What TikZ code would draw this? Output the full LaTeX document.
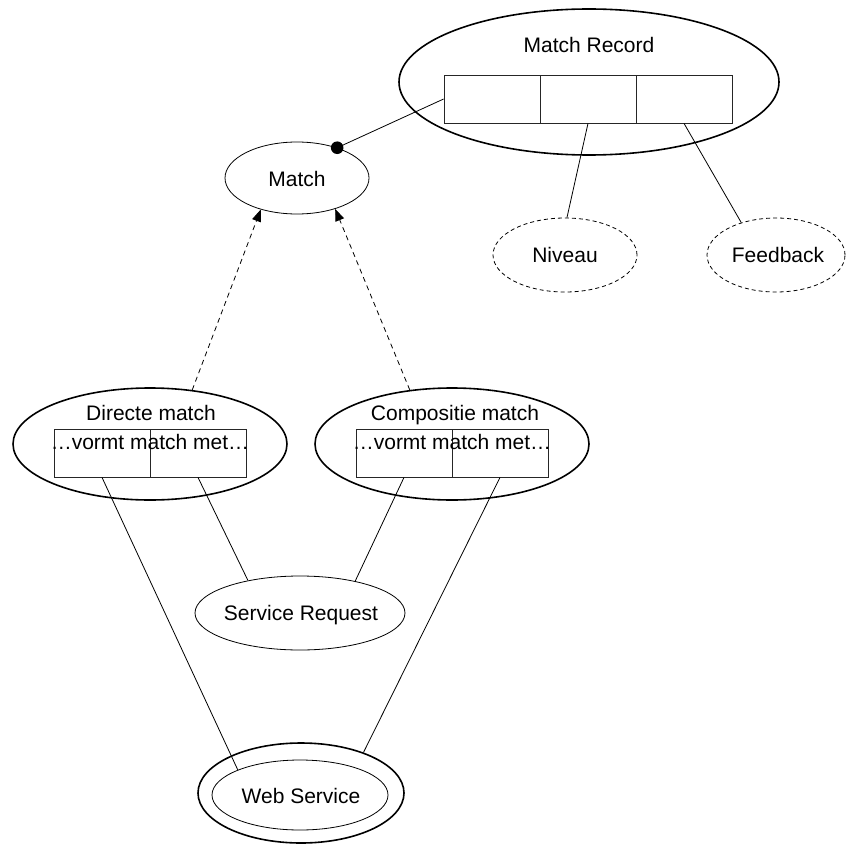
\documentclass[tikz,border=0pt]{standalone}
\usepackage{fontspec}
\setmainfont{Liberation Sans}
\usetikzlibrary{shapes.geometric,arrows.meta}
\begin{document}
\begin{tikzpicture}[x=1pt,y=-1pt,
  font=\fontsize{21}{25}\selectfont,
  oval/.style={ellipse,draw,inner sep=0pt,line width=0.8pt},
  bigoval/.style={oval,line width=1.6pt},
  optoval/.style={oval,dash pattern=on 4pt off 3pt},
  cell/.style={rectangle,draw=black!85,line width=0.8pt,inner sep=0pt,
    minimum width=96pt,minimum height=48pt},
  lbl/.style={anchor=base,inner sep=0pt},
  link/.style={line width=0.8pt},
  isa/.style={line width=0.8pt,dash pattern=on 5pt off 4pt,
    -{Triangle[length=12pt,width=9pt]}}]
\useasboundingbox (0,0) rectangle (845,845);
\fill[white] (0,0) rectangle (845,845);

% Match Record with its three attribute slots
\node[bigoval,minimum width=380pt,minimum height=146pt] (mr) at (589,82) {};
\node[lbl] (mrt) at (589,53) {Match Record};
\node[cell] (mr1) at (492,99) {};
\node[cell] (mr2) at (588,99) {};
\node[cell] (mr3) at (684,99) {};

% Match
\node[oval,minimum width=144pt,minimum height=72pt] (match) at (297,178) {};
\node[lbl] (matcht) at (297,186) {Match};

% optional attributes
\node[optoval,minimum width=144pt,minimum height=74pt] (niv) at (565,255) {};
\node[lbl] (nivt) at (565,262) {Niveau};
\node[optoval,minimum width=138pt,minimum height=74pt] (fb) at (776,255) {};
\node[lbl] (fbt) at (778,262) {Feedback};

% Directe match
\node[bigoval,minimum width=274pt,minimum height=112pt] (dm) at (150,444) {};
\node[lbl] (dmt) at (151,420) {Directe match};
\node[cell] (dr1) at (102,453) {};
\node[cell] (dr2) at (198,453) {};
\node[lbl] (drt) at (150,449) {…vormt match met…};

% Compositie match
\node[bigoval,minimum width=274pt,minimum height=112pt] (cm) at (452,444) {};
\node[lbl] (cmt) at (455,420) {Compositie match};
\node[cell] (cr1) at (404,453) {};
\node[cell] (cr2) at (500,453) {};
\node[lbl] (crt) at (452,449) {…vormt match met…};

% Service Request
\node[oval,minimum width=210pt,minimum height=74pt] (sr) at (300,613) {};
\node[lbl] (srt) at (301,620) {Service Request};

% Web Service (double border)
\node[bigoval,minimum width=206pt,minimum height=100pt] (wso) at (301,793) {};
\node[oval,minimum width=176pt,minimum height=70pt] (wsi) at (300,795) {};
\node[lbl] (wst) at (301,803) {Web Service};

% connectors
\draw[link] (mr1.west) -- (match.37);
\fill (match.37) circle (6.3pt);
\draw[link] (mr2.south) -- (niv.87);
\draw[link] (mr3.south) -- (fb.137);

\draw[isa] (dm.52.5) -- (match.-139);
\draw[isa] (cm.128) -- (match.-39);

\draw[link] (dr1.south) -- (wsi.158);
\draw[link] (dr2.south) -- (sr.148);
\draw[link] (cr1.south) -- (sr.30);
\draw[link] (cr2.south) -- (wso.33.5);
\end{tikzpicture}
\end{document}
